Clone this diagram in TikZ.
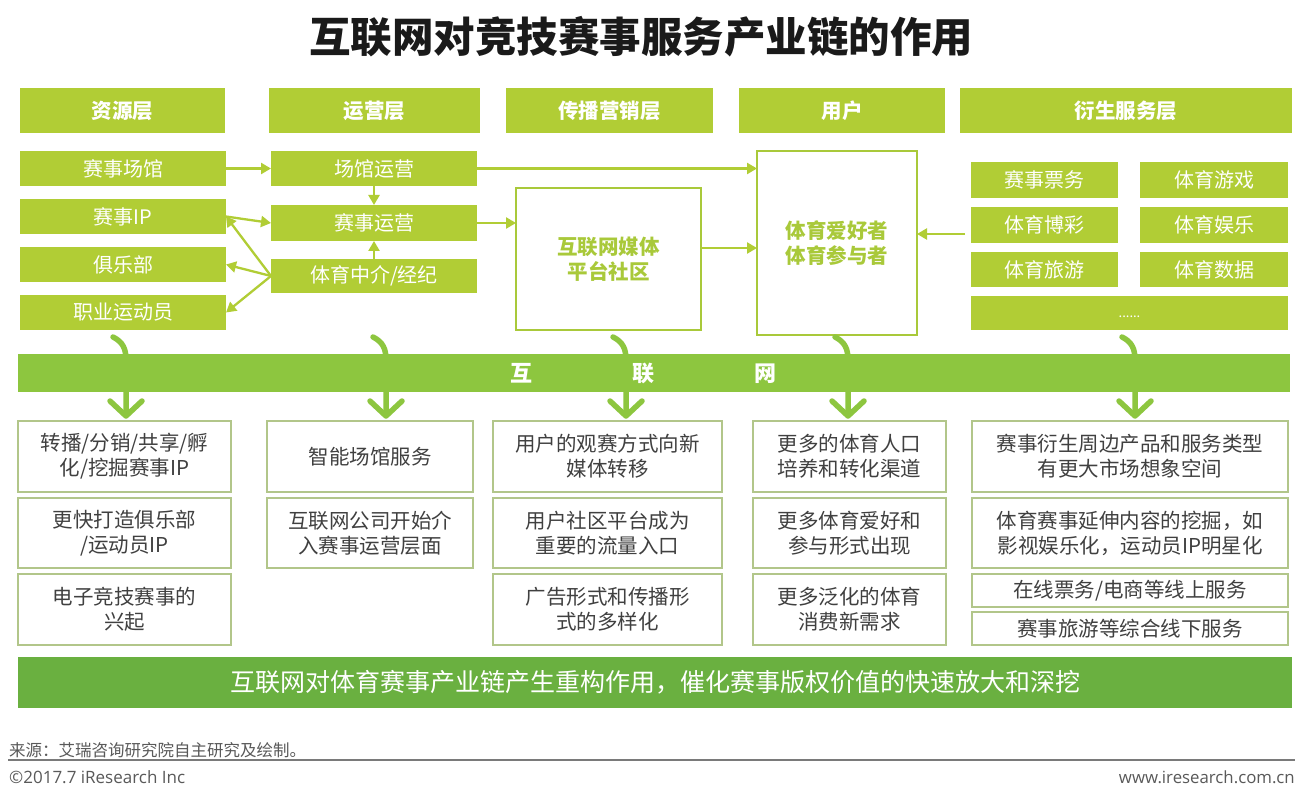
\documentclass[tikz,border=0pt]{standalone}
\usepackage{fontspec}
\setmainfont{Noto Sans CJK SC}
\newfontfamily\latinf{Open Sans}
\usetikzlibrary{arrows.meta,calc}
\definecolor{lg}{HTML}{B1CD35}
\definecolor{og}{HTML}{A9C93A}
\definecolor{mg}{HTML}{8DC63F}
\definecolor{dg}{HTML}{6AB040}
\definecolor{bd}{HTML}{B2C68A}
\definecolor{tx}{HTML}{404040}
\definecolor{ft}{HTML}{595959}
\definecolor{ttl}{HTML}{1A1A1A}
\tikzset{
  hdr/.style={fill=lg, text=white, font=\fontsize{20.5}{24}\selectfont\bfseries, inner sep=0pt, outer sep=0pt, anchor=north west, minimum height=45pt},
  gbox/.style={fill=lg, text=white, font=\fontsize{20}{24}\selectfont, inner sep=0pt, outer sep=0pt, anchor=north west},
  obox/.style={draw=og, line width=2.6pt, fill=white, text=og, font=\fontsize{20.5}{25}\selectfont\bfseries, align=center, inner sep=0pt, outer sep=0pt, anchor=north west},
  wbox/.style={draw=bd, line width=1.1pt, fill=white, text=tx, font=\fontsize{20.5}{25}\selectfont, align=center, inner sep=0pt, outer sep=0pt, anchor=north west},
  arr/.style={draw=lg, line width=2.3pt, -{Triangle[length=10pt,width=11pt]}},
  curv/.style={draw=mg, line width=5.5pt, line cap=round, line join=round},
}
\begin{document}
\begin{tikzpicture}[x=1pt,y=-1pt]
\useasboundingbox[fill=white] (0,0) rectangle (1307,794);
% title
\node[font=\fontsize{41.5}{48}\selectfont\bfseries, text=ttl] (title) at (641,37) {互联网对竞技赛事服务产业链的作用};
% headers
\node[hdr, minimum width=205pt] (h1) at (20,88) {资源层};
\node[hdr, minimum width=211pt] (h2) at (269,88) {运营层};
\node[hdr, minimum width=207pt] (h3) at (506,88) {传播营销层};
\node[hdr, minimum width=206pt] (h4) at (739,88) {用户};
\node[hdr, minimum width=332pt] (h5) at (960,88) {衍生服务层};
% resource column
\node[gbox, minimum width=206pt, minimum height=35pt] (a1) at (20,151) {赛事场馆};
\node[gbox, minimum width=206pt, minimum height=35pt] (a2) at (20,199) {赛事IP};
\node[gbox, minimum width=206pt, minimum height=35pt] (a3) at (20,247) {俱乐部};
\node[gbox, minimum width=206pt, minimum height=35pt] (a4) at (20,295) {职业运动员};
% operation column
\node[gbox, minimum width=206pt, minimum height=35pt] (b1) at (271,151) {场馆运营};
\node[gbox, minimum width=206pt, minimum height=36pt] (b2) at (271,205) {赛事运营};
\node[gbox, minimum width=206pt, minimum height=34pt] (b3) at (271,259) {体育中介/经纪};
% media & user
\node[obox, minimum width=185pt, minimum height=142pt] (media) at (516,188) {互联网媒体\\平台社区};
\node[obox, minimum width=160pt, minimum height=184pt] (user) at (757,151) {体育爱好者\\体育参与者};
% derivative grid
\node[gbox, minimum width=147pt, minimum height=36pt] (c1) at (971,162) {赛事票务};
\node[gbox, minimum width=148pt, minimum height=36pt] (c2) at (1140,162) {体育游戏};
\node[gbox, minimum width=147pt, minimum height=36pt] (c3) at (971,207) {体育博彩};
\node[gbox, minimum width=148pt, minimum height=36pt] (c4) at (1140,207) {体育娱乐};
\node[gbox, minimum width=147pt, minimum height=35pt] (c5) at (971,252) {体育旅游};
\node[gbox, minimum width=148pt, minimum height=35pt] (c6) at (1140,252) {体育数据};
\node[gbox, minimum width=317pt, minimum height=34pt] (c7) at (971,296) {};
\node[text=white, inner sep=0pt, font=\fontsize{13}{15}\selectfont] (dots) at ([yshift=-4pt]c7.center) {......};
% connectors
\draw[arr] (a1.east) -- (b1.west);
\draw[arr] (b1.south) -- (b2.north);
\draw[arr] (b3.north) -- (b2.south);
\draw[arr] (a2.east) -- (b2.west);
\draw[arr] (b3.west) -- (a2.east);
\draw[arr] (b3.west) -- (a3.east);
\draw[arr] (b3.west) -- (a4.east);
\draw[arr] (b1.east) -- (b1.east -| user.west);
\draw[arr] (b2.east) -- (b2.east -| media.west);
\draw[arr] ([yshift=11pt]media.east) -- ([yshift=11pt]media.east -| user.west);
\coordinate (rs) at (965,234);
\draw[arr] (rs) -- (rs -| user.east);
% curved arrows through the internet band
\foreach \X in {126,386,626,848,1135}{
  \draw[curv] (\X-13,337) .. controls (\X-3,342) and (\X,349) .. (\X,360) -- (\X,415);
  \draw[curv] (\X-16,401) -- (\X,416) -- (\X+16,401);
}
\node[fill=mg, minimum width=1272pt, minimum height=38pt, inner sep=0pt, anchor=north west] (net) at (18,354) {};
\node[text=white, font=\fontsize{22}{26}\selectfont\bfseries, inner sep=0pt] (nettext) at (643,373) {互\hspace{100pt}联\hspace{100pt}网};
% effect boxes
\node[wbox, minimum width=213pt, minimum height=71pt] (d1) at (18,421) {转播/分销/共享/孵\\化/挖掘赛事IP};
\node[wbox, minimum width=213pt, minimum height=70pt] (d2) at (18,498) {更快打造俱乐部\\/运动员IP};
\node[wbox, minimum width=213pt, minimum height=71pt] (d3) at (18,574) {电子竞技赛事的\\兴起};
\node[wbox, minimum width=206pt, minimum height=71pt] (e1) at (267,421) {智能场馆服务};
\node[wbox, minimum width=206pt, minimum height=70pt] (e2) at (267,498) {互联网公司开始介\\入赛事运营层面};
\node[wbox, minimum width=229pt, minimum height=71pt] (f1) at (493,421) {用户的观赛方式向新\\媒体转移};
\node[wbox, minimum width=229pt, minimum height=70pt] (f2) at (493,498) {用户社区平台成为\\重要的流量入口};
\node[wbox, minimum width=229pt, minimum height=71pt] (f3) at (493,574) {广告形式和传播形\\式的多样化};
\node[wbox, minimum width=193pt, minimum height=71pt] (g1) at (753,421) {更多的体育人口\\培养和转化渠道};
\node[wbox, minimum width=193pt, minimum height=70pt] (g2) at (753,498) {更多体育爱好和\\参与形式出现};
\node[wbox, minimum width=193pt, minimum height=71pt] (g3) at (753,574) {更多泛化的体育\\消费新需求};
\node[wbox, minimum width=316pt, minimum height=71pt] (k1) at (972,421) {赛事衍生周边产品和服务类型\\有更大市场想象空间};
\node[wbox, minimum width=316pt, minimum height=70pt] (k2) at (972,498) {体育赛事延伸内容的挖掘，如\\影视娱乐化，运动员IP明星化};
\node[wbox, minimum width=316pt, minimum height=33pt] (k3) at (972,574) {在线票务/电商等线上服务};
\node[wbox, minimum width=316pt, minimum height=33pt] (k4) at (972,612) {赛事旅游等综合线下服务};
% conclusion band
\node[fill=dg, text=white, minimum width=1274pt, minimum height=51pt, inner sep=0pt, anchor=north west, font=\fontsize{25}{29}\selectfont] (concl) at (18,657) {互联网对体育赛事产业链产生重构作用，催化赛事版权价值的快速放大和深挖};
% footer
\node[anchor=south west, inner sep=0pt, text=ft, font=\fontsize{16.5}{19}\selectfont] (src) at (9,758) {来源：艾瑞咨询研究院自主研究及绘制。};
\coordinate (fl) at (8,760);
\coordinate (fr) at (1295,760);
\draw[draw=ft!80, line width=1.8pt] (fl) -- (fr);
\node[anchor=west, inner sep=0pt, text=ft, font=\latinf\fontsize{17}{19}\selectfont] (copy) at (9,777) {©2017.7 iResearch Inc};
\node[anchor=east, inner sep=0pt, text=ft, font=\latinf\fontsize{16.8}{19}\selectfont] (www) at (1295,777) {www.iresearch.com.cn};
\end{tikzpicture}
\end{document}
